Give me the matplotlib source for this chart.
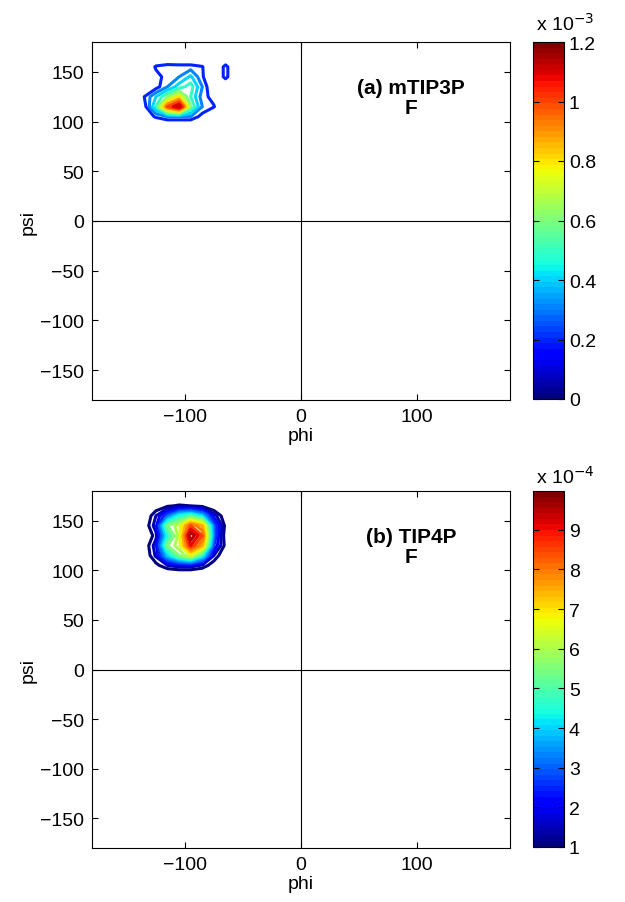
import numpy as np
import matplotlib
matplotlib.use("Agg")
import matplotlib.pyplot as plt
from matplotlib.colors import Normalize
from matplotlib.cm import ScalarMappable

plt.rcParams['font.family'] = ['Liberation Sans', 'DejaVu Sans']

# histogram bin centres (degrees)
grid_centres = np.arange(-175, 176, 10)

# ---- panel (a) mTIP3P: density block (units 1e-3) ----
a_phi = [-145, -135, -125, -115, -105, -95, -85, -75, -65, -55]
a_psi = [165, 155, 145, 135, 125, 115, 105, 95]
a_vals = [
    [0, 0,    0,    0,    0,    0,    0,    0,    0,    0],
    [0, 0,    0.22, 0.26, 0.25, 0.25, 0.21, 0,    0.25, 0],
    [0, 0,    0.15, 0.25, 0.30, 0.42, 0.22, 0,    0.25, 0],
    [0, 0.10, 0.15, 0.30, 0.45, 0.55, 0.30, 0.05, 0,    0],
    [0, 0.20, 0.40, 0.60, 0.80, 0.50, 0.25, 0.15, 0,    0],
    [0, 0.15, 0.50, 1.00, 1.20, 0.60, 0.30, 0.21, 0,    0],
    [0, 0.10, 0.22, 0.30, 0.30, 0.30, 0.15, 0,    0,    0],
    [0, 0,    0,    0,    0,    0,    0,    0,    0,    0],
]
a_levels = [0.2, 0.3, 0.4, 0.5, 0.6, 0.7, 0.8, 0.9, 1.0, 1.1]
a_clim = [0, 1.2]
a_ticks = [0, 0.2, 0.4, 0.6, 0.8, 1.0, 1.2]
a_ticklabels = ['0', '0.2', '0.4', '0.6', '0.8', '1', '1.2']

# ---- panel (b) TIP4P: density block (units 1e-4) ----
b_phi = [-145, -135, -125, -115, -105, -95, -85, -75, -65, -55]
b_psi = [175, 165, 155, 145, 135, 125, 115, 105, 95]
b_vals = [
    [0, 0,   0,   0,   0,   0,    0,   0,   0,   0],
    [0, 0,   0.5, 0.9, 1.1, 1.0,  0.8, 0.3, 0,   0],
    [0, 0.3, 1.5, 3.0, 4.5, 5.0,  4.0, 1.8, 0.5, 0],
    [0, 0.5, 1.8, 5.5, 6.3, 8.5,  7.5, 3.0, 0.8, 0],
    [0, 0.2, 1.3, 4.5, 6.2, 9.98, 8.5, 3.0, 0.6, 0],
    [0, 0.5, 1.8, 5.5, 6.3, 9.0,  7.5, 2.5, 0.8, 0],
    [0, 0.4, 1.6, 4.0, 5.5, 6.5,  4.5, 1.5, 0.3, 0],
    [0, 0,   0.8, 1.5, 1.8, 1.8,  1.4, 0.6, 0,   0],
    [0, 0,   0,   0,   0,   0,    0,   0,   0,   0],
]
b_levels = [1.0, 1.5, 2.0, 2.5, 3.0, 3.5, 4.0, 4.5, 5.0, 5.5, 6.0, 6.5,
            7.0, 7.5, 8.0, 8.5, 9.0, 9.5]
b_clim = [1, 9.98]
b_ticks = [1, 2, 3, 4, 5, 6, 7, 8, 9]
b_ticklabels = ['1', '2', '3', '4', '5', '6', '7', '8', '9']

ticks_xy = [-150, -100, -50, 0, 50, 100, 150]
xticks = [-100, 0, 100]


def full_grid(phis, psis, vals):
    Z = np.zeros((len(grid_centres), len(grid_centres)))
    for i, ps in enumerate(psis):
        for j, ph in enumerate(phis):
            Z[np.where(grid_centres == ps)[0][0], np.where(grid_centres == ph)[0][0]] = vals[i][j]
    return Z


cmap = plt.get_cmap('jet', 64)

W, H = 625, 903
fig = plt.figure(figsize=(W / 100, H / 100), dpi=100)


def px_axes(l, t, r, b):
    return fig.add_axes([l / W, 1 - b / H, (r - l) / W, (b - t) / H])


def panel(ax_box, cb_box, phis, psis, vals, levels, clim, cticks, cticklabels,
          expo, label, expo_y):
    ax = px_axes(*ax_box)
    Z = full_grid(phis, psis, vals)
    norm = Normalize(vmin=clim[0], vmax=clim[1])
    ax.contour(grid_centres, grid_centres, Z, levels=levels, cmap=cmap,
               norm=norm, linewidths=2.2)
    ax.axhline(0, color='black', lw=0.8)
    ax.axvline(0, color='black', lw=0.8)
    ax.set_xlim(-180, 180)
    ax.set_ylim(-180, 180)
    ax.set_xticks(xticks)
    ax.set_yticks(ticks_xy)
    ax.set_xticklabels(['\u2212100', '0', '100'])
    ax.set_yticklabels(['\u2212150', '\u2212100', '\u221250', '0', '50', '100', '150'])
    ax.tick_params(direction='in', top=True, right=True, labelsize=14,
                   length=4, width=0.8, pad=6)
    for s in ax.spines.values():
        s.set_linewidth(0.8)
    ax.set_xlabel('phi', fontsize=14, labelpad=1)
    ax.set_ylabel('psi', fontsize=14, labelpad=2)
    ax.text(95, 124, label, ha='center', va='center', fontsize=15,
            fontweight='bold', linespacing=1.1)

    cax = px_axes(*cb_box)
    sm = ScalarMappable(norm=norm, cmap=cmap)
    cb = fig.colorbar(sm, cax=cax, ticks=cticks)
    cb.set_ticklabels(cticklabels)
    cb.outline.set_linewidth(0.8)
    cax.tick_params(direction='in', labelsize=14, length=4, width=0.8,
                    left=True)
    fig.text(cb_box[0] / W + 0.004, 1 - expo_y / H, expo, fontsize=14,
             ha='left', va='baseline')
    return ax


panel((92, 43, 510, 401), (533, 43, 564, 400), a_phi, a_psi, a_vals,
      a_levels, a_clim, a_ticks, a_ticklabels, 'x 10$^{-3}$',
      '(a) mTIP3P\nF', 31)
panel((92, 492, 510, 849), (533, 492, 564, 848), b_phi, b_psi, b_vals,
      b_levels, b_clim, b_ticks, b_ticklabels, 'x 10$^{-4}$',
      '(b) TIP4P\nF', 484)

fig.savefig('out.png', dpi=100)
